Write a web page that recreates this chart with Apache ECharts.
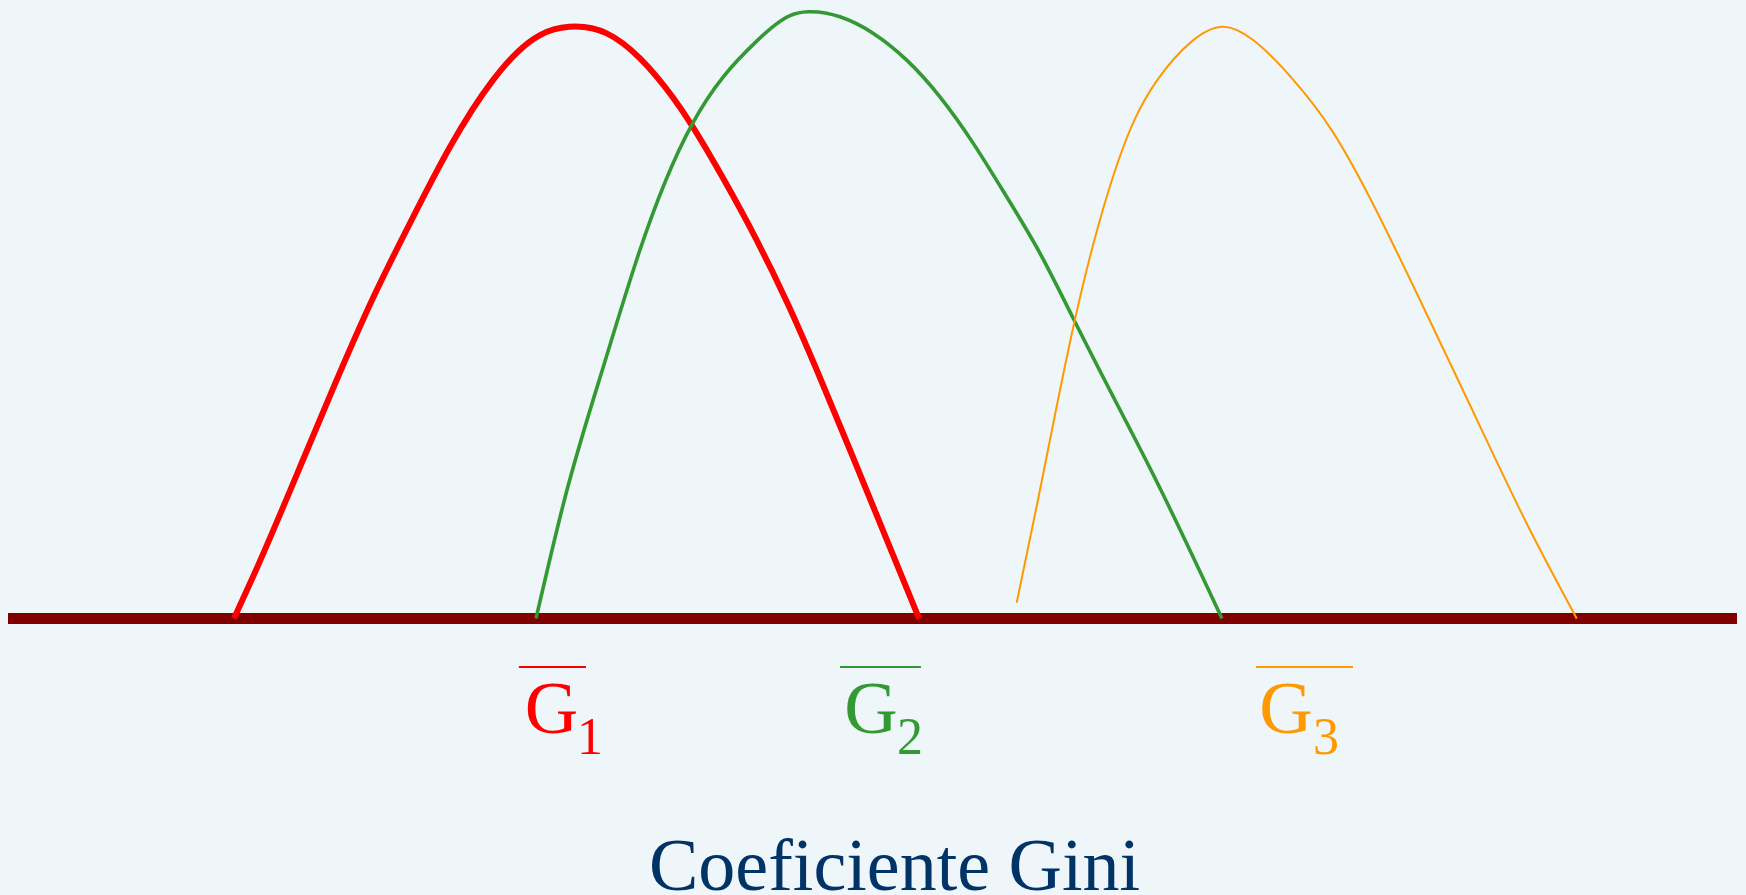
<!DOCTYPE html>
<html>
<head>
<meta charset="utf-8">
<title>Coeficiente Gini</title>
<script src="https://cdn.jsdelivr.net/npm/echarts@6/dist/echarts.min.js"></script>
<style>
    html, body { margin: 0; padding: 0; background: #eff6fa; }
    #main { width: 1746px; height: 895px; }
</style>
</head>
<body>
<div id="main"></div>
<script>
// x = coeficiente de Gini, y = densidade (sem escala no grafico)
var gini1 = [0.1307, 0.1419, 0.1671, 0.1891, 0.2111, 0.2331, 0.2556, 0.2805, 0.3077, 0.3246, 0.3463, 0.3655, 0.3848, 0.3954, 0.4137, 0.4330, 0.4513, 0.4685, 0.4870, 0.5269];
var dens1 = [0, 0.0708, 0.2403, 0.3908, 0.5342, 0.6625, 0.7858, 0.8975, 0.9725, 0.9863, 0.9753, 0.9337, 0.8675, 0.8225, 0.7333, 0.6308, 0.5225, 0.4092, 0.2808, 0];

var gini2 = [0.3054, 0.3227, 0.3441, 0.3649, 0.3954, 0.4137, 0.4330, 0.4523, 0.4629, 0.4812, 0.5005, 0.5198, 0.5390, 0.5583, 0.5776, 0.5969, 0.6160, 0.6414, 0.6622, 0.7021];
var dens2 = [0, 0.2075, 0.4175, 0.6092, 0.8225, 0.9030, 0.9625, 1.0050, 1.0113, 1.0030, 0.9753, 0.9308, 0.8697, 0.7920, 0.7030, 0.6087, 0.5008, 0.3575, 0.2408, 0];

var gini3 = [0.5834, 0.5957, 0.6160, 0.6356, 0.6512, 0.6647, 0.6842, 0.7029, 0.7201, 0.7425, 0.7663, 0.7883, 0.8172, 0.8461, 0.8791, 0.9073];
var dens3 = [0.0263, 0.1975, 0.4842, 0.7042, 0.8292, 0.8975, 0.9608, 0.9863, 0.9642, 0.9008, 0.8108, 0.6975, 0.5275, 0.3525, 0.1542, 0];

// medias G1, G2, G3 (rotulos abaixo do eixo)
var groups = ['1', '2', '3'];
var meanGini = [0.3143, 0.4991, 0.7392];
var subGini = [0.3366, 0.5217, 0.7623];
var barFrom = [0.2955, 0.4812, 0.7218];
var barTo = [0.3343, 0.5280, 0.7779];

var colors = ['#ff0000', '#339933', '#ff9900'];
var widths = [6, 3.6, 2];

init()

function init() {
    var myChart = echarts.init(document.getElementById('main'));
    myChart.setOption(getOption());
}

// spline cubica natural pelos pontos (em pixels), escrita como curvas de bezier
function splinePath(pts) {
    var n = pts.length;
    var x = pts.map(function(p) { return p[0]; });
    var y = pts.map(function(p) { return p[1]; });
    var h = [], M = [], cp = [], dp = [];
    for (var i = 0; i < n - 1; i++) h[i] = x[i + 1] - x[i];
    M[0] = 0;
    M[n - 1] = 0;
    for (i = 1; i < n - 1; i++) {
        var a = h[i - 1], b = 2 * (h[i - 1] + h[i]), c = h[i];
        var d = 6 * ((y[i + 1] - y[i]) / h[i] - (y[i] - y[i - 1]) / h[i - 1]);
        if (i === 1) {
            cp[i] = c / b;
            dp[i] = d / b;
        } else {
            var m = b - a * cp[i - 1];
            cp[i] = c / m;
            dp[i] = (d - a * dp[i - 1]) / m;
        }
    }
    for (i = n - 2; i >= 1; i--) {
        M[i] = dp[i] - cp[i] * M[i + 1];
    }
    var path = 'M' + x[0] + ' ' + y[0];
    for (i = 0; i < n - 1; i++) {
        var s = (y[i + 1] - y[i]) / h[i];
        var m0 = s - h[i] * (2 * M[i] + M[i + 1]) / 6;
        var m1 = s + h[i] * (M[i] + 2 * M[i + 1]) / 6;
        path += ' C' + (x[i] + h[i] / 3) + ' ' + (y[i] + m0 * h[i] / 3) +
            ' ' + (x[i + 1] - h[i] / 3) + ' ' + (y[i + 1] - m1 * h[i] / 3) +
            ' ' + x[i + 1] + ' ' + y[i + 1];
    }
    return path;
}

function curveSeries(xs, ys, color, width) {
    return {
        type: 'custom',
        coordinateSystem: 'cartesian2d',
        data: [[xs[0], ys[0]]],
        z: 3,
        silent: true,
        renderItem: function(params, api) {
            var pts = xs.map(function(x, i) {
                return api.coord([x, ys[i]]);
            });
            return {
                type: 'path',
                shape: { pathData: splinePath(pts) },
                style: { fill: null, stroke: color, lineWidth: width }
            };
        }
    };
}

function getOption() {
    var series = [
        curveSeries(gini1, dens1, colors[0], widths[0]),
        curveSeries(gini2, dens2, colors[1], widths[1]),
        curveSeries(gini3, dens3, colors[2], widths[2])
    ];

    //barra sobre o G
    groups.forEach(function(g, i) {
        series.push({
            type: 'line',
            data: [[barFrom[i], -0.081], [barTo[i], -0.081]],
            showSymbol: false,
            silent: true,
            lineStyle: { color: colors[i], width: 2 }
        });
    });

    //letra G
    series.push({
        type: 'scatter',
        symbolSize: 1,
        itemStyle: { color: 'transparent', opacity: 1 },
        data: meanGini.map(function(x, i) {
            return { value: [x, -0.159], label: { color: colors[i] } };
        }),
        label: {
            show: true,
            position: 'inside',
            formatter: 'G',
            fontFamily: 'Liberation Serif',
            fontSize: 74
        }
    });

    //indices
    series.push({
        type: 'scatter',
        symbolSize: 1,
        itemStyle: { color: 'transparent', opacity: 1 },
        data: subGini.map(function(x, i) {
            return { value: [x, -0.203], name: groups[i], label: { color: colors[i] } };
        }),
        label: {
            show: true,
            position: 'inside',
            formatter: '{b}',
            fontFamily: 'Liberation Serif',
            fontSize: 52
        }
    });

    return {
        backgroundColor: '#eff6fa',
        animation: false,
        title: {
            text: 'Coeficiente Gini',
            left: 644,
            top: 829,
            textStyle: {
                fontFamily: 'Liberation Serif',
                fontWeight: 'normal',
                fontSize: 74,
                color: '#003366'
            }
        },
        grid: { left: 8, right: 9, top: 0, bottom: 0 },
        xAxis: {
            type: 'value',
            min: 0,
            max: 1,
            axisLine: { onZero: true, lineStyle: { color: '#800000', width: 11, cap: 'butt' } },
            axisTick: { show: false },
            axisLabel: { show: false },
            splitLine: { show: false }
        },
        yAxis: {
            type: 'value',
            min: -0.461,
            max: 1.031,
            show: false,
            splitLine: { show: false }
        },
        series: series
    };
}
</script>
</body>
</html>
